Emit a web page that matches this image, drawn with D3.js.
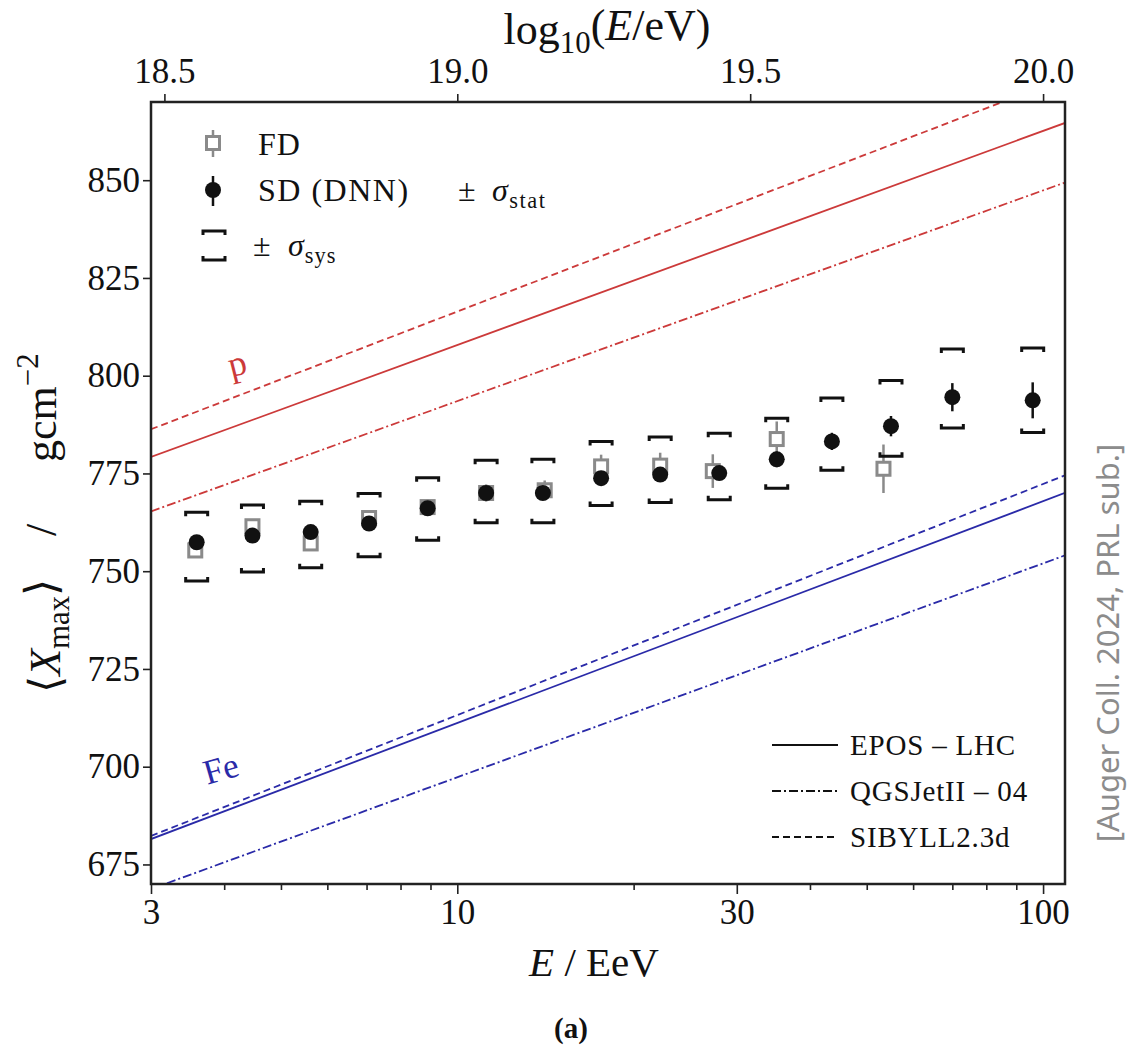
<!DOCTYPE html>
<html>
<head>
<meta charset="utf-8">
<script src="https://cdn.jsdelivr.net/npm/d3@7"></script>
<style>
  body { margin: 0; background: #fff; }
  svg text { font-family: "Liberation Serif", "DejaVu Serif", serif; fill: #111; }
</style>
</head>
<body>
<script>
// SD (DNN) points: energy in EeV, <Xmax>, stat error, sys up / down
const sdEnergy = [3.59, 4.47, 5.62, 7.07, 8.9, 11.2, 14.0, 17.6, 22.2, 28.0, 35.1, 43.6, 55.0, 70.0, 96.0];
const sdXmax   = [757.4, 759.1, 760.0, 762.2, 766.1, 770.0, 770.0, 773.8, 774.7, 775.1, 778.6, 783.2, 787.1, 794.5, 793.7];
const sdStat   = [1.0, 1.0, 1.0, 1.1, 1.2, 1.2, 1.3, 1.5, 1.6, 1.8, 2.0, 2.2, 2.6, 3.6, 4.6];
const sdSysUp  = [7.7, 7.8, 7.9, 7.7, 7.8, 8.4, 8.6, 9.4, 9.6, 10.2, 10.5, 11.1, 11.7, 12.3, 13.4];
const sdSysDn  = [9.9, 9.3, 9.1, 8.5, 8.2, 7.6, 7.6, 7.0, 7.1, 6.8, 7.4, 7.4, 7.7, 7.9, 8.2];

// FD points
const fdEnergy = [3.57, 4.47, 5.62, 7.07, 8.9, 11.2, 14.1, 17.6, 22.2, 27.3, 35.1, 53.4];
const fdXmax   = [755.3, 761.5, 757.1, 763.6, 766.4, 770.0, 770.7, 776.8, 777.0, 775.6, 783.8, 776.2];
const fdStat   = [1.5, 1.5, 1.6, 1.8, 2.0, 2.2, 2.5, 3.0, 3.3, 4.3, 4.5, 6.2];

// hadronic model predictions, value at E = 3 EeV and E = 100 EeV
const modelNames = ["EPOS – LHC", "QGSJetII – 04", "SIBYLL2.3d"];
const modelDash  = [null, "9,3,2,3", "7,4"];
const protonAt3   = [779.2, 765.3, 786.3];
const protonAt100 = [862.6, 847.4, 874.0];
const ironAt3     = [681.5, 668.7, 682.3];
const ironAt100   = [767.9, 752.0, 772.3];

// ticks
const yTicks = [675, 700, 725, 750, 775, 800, 825, 850];
const xMajor = [3, 10, 30, 100];
const xMinor = [4, 5, 6, 7, 8, 9, 20, 40, 50, 60, 70, 80, 90];
const topTicks = [18.5, 19.0, 19.5, 20.0];

const W = 1135, H = 1049;
const pL = 151, pR = 1065, pT = 102, pB = 884;
const red = "#cc3a3a", blue = "#2a2aa8";

const svg = d3.select("body").append("svg").attr("width", W).attr("height", H);

const x = d3.scaleLog().domain([3, 109]).range([pL, pR]);
const y = d3.scaleLinear().domain([670, 870]).range([pB, pT]);

// helper: rich text with sub/superscripts, optional absolute x for a piece
function rich(sel, parts) {
  parts.forEach(p => {
    const t = sel.append("tspan").text(p.t);
    if (p.x !== undefined) t.attr("x", p.x);
    if (p.i) t.style("font-style", "italic");
    if (p.sub) t.attr("dy", p.sub).style("font-size", p.fs || "0.7em");
    if (p.sup) t.attr("dy", p.sup).style("font-size", p.fs || "0.7em");
  });
  return sel;
}

svg.append("clipPath").attr("id", "plot")
  .append("rect").attr("x", pL).attr("y", pT).attr("width", pR - pL).attr("height", pB - pT);

// model lines
const g = svg.append("g").attr("clip-path", "url(#plot)");
const [e0, e1] = x.domain();
function modelLine(a3, a100, color, dash) {
  const f = e => a3 + (a100 - a3) * Math.log10(e / 3) / Math.log10(100 / 3);
  g.append("line")
    .attr("x1", x(e0)).attr("y1", y(f(e0)))
    .attr("x2", x(e1)).attr("y2", y(f(e1)))
    .attr("stroke", color).attr("stroke-width", 1.8)
    .attr("stroke-dasharray", dash);
}
modelNames.forEach((n, i) => {
  modelLine(protonAt3[i], protonAt100[i], red, modelDash[i]);
  modelLine(ironAt3[i], ironAt100[i], blue, modelDash[i]);
});

// FD points
function fdMark(gg, cx, cy, up, dn) {
  gg.append("line").attr("x1", cx).attr("x2", cx).attr("y1", up).attr("y2", dn)
    .attr("stroke", "#8a8a8a").attr("stroke-width", 2.5);
  gg.append("rect").attr("x", cx - 6.5).attr("y", cy - 6.5).attr("width", 13).attr("height", 13)
    .attr("fill", "#fff").attr("stroke", "#8a8a8a").attr("stroke-width", 3);
}
const fdG = svg.append("g");
fdEnergy.forEach((e, i) => {
  fdMark(fdG, x(e), y(fdXmax[i]), y(fdXmax[i] + fdStat[i]), y(fdXmax[i] - fdStat[i]));
});

// SD points
function sysCap(gg, cx, cy, dir) {
  gg.append("path")
    .attr("d", `M${cx - 11},${cy + 4 * dir}V${cy}H${cx + 11}V${cy + 4 * dir}`)
    .attr("fill", "none").attr("stroke", "#111").attr("stroke-width", 3);
}
function sdMark(gg, cx, cy, up, dn) {
  gg.append("line").attr("x1", cx).attr("x2", cx).attr("y1", up).attr("y2", dn)
    .attr("stroke", "#111").attr("stroke-width", 2.5);
  gg.append("circle").attr("cx", cx).attr("cy", cy).attr("r", 8).attr("fill", "#111");
}
const sdG = svg.append("g");
sdEnergy.forEach((e, i) => {
  const cx = x(e), v = sdXmax[i];
  sysCap(sdG, cx, y(v + sdSysUp[i]), 1);
  sysCap(sdG, cx, y(v - sdSysDn[i]), -1);
  sdMark(sdG, cx, y(v), y(v + sdStat[i]), y(v - sdStat[i]));
});

// frame
svg.append("rect").attr("x", pL).attr("y", pT).attr("width", pR - pL).attr("height", pB - pT)
  .attr("fill", "none").attr("stroke", "#222").attr("stroke-width", 2.5);

// axes
const fs = "35px";
svg.append("g").attr("transform", `translate(0,${pB})`)
  .call(d3.axisBottom(x).tickValues(xMajor).tickFormat(d3.format("d")).tickSize(10).tickPadding(5));
svg.append("g").attr("transform", `translate(0,${pB})`)
  .call(d3.axisBottom(x).tickValues(xMinor).tickFormat("").tickSize(6));
svg.append("g").attr("transform", `translate(${pL},0)`)
  .call(d3.axisLeft(y).tickValues(yTicks).tickSize(8).tickPadding(3));
svg.append("g").attr("transform", `translate(0,${pT})`)
  .call(d3.axisTop(x).tickValues(topTicks.map(t => Math.pow(10, t - 18)))
    .tickFormat((d, i) => topTicks[i].toFixed(1)).tickSize(8).tickPadding(11));
svg.selectAll(".domain").remove();
svg.selectAll(".tick line").attr("stroke", "#222").attr("stroke-width", 1.6);
svg.selectAll(".tick text").style("font-size", fs).style("font-family", '"Liberation Serif", serif').attr("fill", "#111");

// axis titles
rich(svg.append("text").attr("x", 594).attr("y", 976).attr("text-anchor", "middle").style("font-size", "41px"),
  [{ t: "E", i: true }, { t: " / EeV" }]);
rich(svg.append("text").attr("x", 607).attr("y", 44).attr("text-anchor", "middle").style("font-size", "44px"),
  [{ t: "log" }, { t: "10", sub: "0.3em" }, { t: "(", sub: "-0.3em", fs: "1em" }, { t: "E", i: true }, { t: "/eV)" }]);
rich(svg.append("text").attr("transform", "translate(60,0) rotate(-90)").style("font-size", "44px"),
  [{ t: "⟨", x: -693 }, { t: "X", i: true }, { t: "max", sub: "0.3em" },
   { t: "⟩", sub: "-0.3em", fs: "1em" }, { t: "/", x: -536 },
   { t: "gcm", x: -462 }, { t: "−2", sup: "-0.6em" }]);

svg.append("text").attr("x", 571).attr("y", 1038).attr("text-anchor", "middle")
  .style("font-size", "29px").style("font-weight", "bold").text("(a)");

// p / Fe labels
svg.append("text").attr("transform", "translate(240,375) rotate(-14)").attr("text-anchor", "middle")
  .style("font-size", "36px").style("fill", red).text("p");
svg.append("text").attr("transform", "translate(224,780) rotate(-16)").attr("text-anchor", "middle")
  .style("font-size", "35px").style("fill", blue).text("Fe");

// legend top-left
const lg = svg.append("g");
fdMark(lg, 213, 143, 130, 157);
sdMark(lg, 213, 190, 176, 206);
sysCap(lg, 214, 231, 1);
sysCap(lg, 214, 260, -1);
const lfs = "32px";
lg.append("text").attr("x", 258).attr("y", 155).style("font-size", lfs).style("letter-spacing", "1px").text("FD");
rich(lg.append("text").attr("x", 258).attr("y", 201).style("font-size", lfs).style("letter-spacing", "1.5px"),
  [{ t: "SD (DNN)" }, { t: "±", x: 458 }, { t: "σ", i: true, x: 492 }, { t: "stat", sub: "0.3em" }]);
rich(lg.append("text").attr("x", 253).attr("y", 256).style("font-size", lfs).style("letter-spacing", "1px"),
  [{ t: "±" }, { t: "σ", i: true, x: 288 }, { t: "sys", sub: "0.3em" }]);

// legend bottom-right
const lg2 = svg.append("g");
modelNames.forEach((n, i) => {
  const yy = 745 + i * 46;
  lg2.append("line").attr("x1", 772).attr("x2", 838).attr("y1", yy).attr("y2", yy)
    .attr("stroke", "#111").attr("stroke-width", 1.8).attr("stroke-dasharray", modelDash[i]);
  lg2.append("text").attr("x", 850).attr("y", yy + 10).style("font-size", "29px")
    .style("letter-spacing", "0.8px").text(n);
});

// side note
svg.append("text").attr("transform", "translate(1119,643) rotate(-90)").attr("text-anchor", "middle")
  .style("font-family", '"Noto Sans", "Open Sans", sans-serif').style("font-size", "31px")
  .style("fill", "#8c8c8c").text("[Auger Coll. 2024, PRL sub.]");
</script>
</body>
</html>
